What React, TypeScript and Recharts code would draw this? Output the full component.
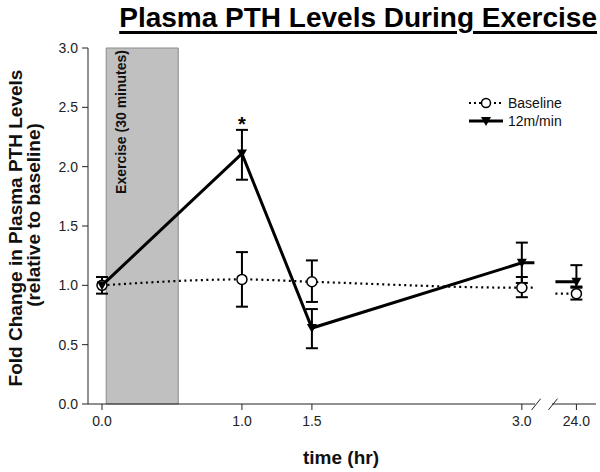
import React from 'react';
import {
  ComposedChart,
  Line,
  XAxis,
  YAxis,
  ErrorBar,
  ReferenceArea,
  ReferenceLine,
  ReferenceDot,
} from 'recharts';

// time points (hr). 24 h sits after an axis break, so it gets a compressed position
const timeLabels = ['0.0', '1.0', '1.5', '3.0', '24.0'];
const timePos = [0, 1, 1.5, 3, 3.39];

// fold change, open circles / dotted line
const baseline = [1.0, 1.05, 1.03, 0.98, 0.93];
const baselineLow = [1.0, 0.82, 0.86, 0.9, 0.88];
const baselineHigh = [1.0, 1.28, 1.21, 1.07, 0.99];

// fold change, filled triangles / solid line
const run12 = [1.0, 2.11, 0.64, 1.19, 1.03];
const run12Low = [0.93, 1.89, 0.47, 1.02, 0.98];
const run12High = [1.07, 2.31, 0.8, 1.36, 1.17];

const significant = [false, true, false, false, false];

const yTicks = [0, 0.5, 1, 1.5, 2, 2.5, 3];

// axis break: short stubs either side of the gap
const stubAfter3 = 3.09;
const stubBefore24 = 3.24;
const xDomain = [-0.1, 3.53];

const FONT = 'Arial, "Liberation Sans", Helvetica, sans-serif';

type Row = {
  pos: number;
  base: number | null;
  run: number | null;
  baseErr?: [number, number];
  runErr?: [number, number];
  mark: boolean;
};

const rows: Row[] = [];
timePos.forEach((p, i) => {
  if (i === 4) {
    // gap row breaks both lines, then stub leading into 24 h
    rows.push({ pos: (stubAfter3 + stubBefore24) / 2, base: null, run: null, mark: false });
    rows.push({ pos: stubBefore24, base: baseline[i], run: run12[i], mark: false });
  }
  const be: [number, number] = [baseline[i] - baselineLow[i], baselineHigh[i] - baseline[i]];
  rows.push({
    pos: p,
    base: baseline[i],
    run: run12[i],
    baseErr: be[0] === 0 && be[1] === 0 ? undefined : be,
    runErr: [run12[i] - run12Low[i], run12High[i] - run12[i]],
    mark: true,
  });
  if (i === 3) {
    rows.push({ pos: stubAfter3, base: baseline[i], run: run12[i], mark: false });
  }
});

const CircleDot = (props: any) => {
  const { cx, cy, payload, index } = props;
  if (!payload || !payload.mark) return <g key={`c-${index}`} />;
  return <circle key={`c-${index}`} cx={cx} cy={cy} r={5} fill="#fff" stroke="#000" strokeWidth={1.5} />;
};

const TriDot = (props: any) => {
  const { cx, cy, payload, index } = props;
  if (!payload || !payload.mark) return <g key={`t-${index}`} />;
  return (
    <path
      key={`t-${index}`}
      d={`M${cx - 5},${cy - 4}L${cx + 5},${cy - 4}L${cx},${cy + 5}Z`}
      fill="#000"
    />
  );
};

const ExerciseLabel = (props: any) => {
  const { viewBox } = props;
  if (!viewBox) return null;
  const x = viewBox.x + 19.5;
  const y = viewBox.y + 2;
  return (
    <text
      x={x}
      y={y}
      transform={`rotate(-90 ${x} ${y})`}
      textAnchor="end"
      fontFamily={FONT}
      fontSize={14}
      fontWeight="bold"
      fill="#111"
    >
      Exercise (30 minutes)
    </text>
  );
};

const LegendBox = () => (
  <div
    style={{
      position: 'absolute',
      left: 466,
      top: 94,
      fontFamily: FONT,
      fontSize: 14,
      color: '#111',
      lineHeight: '18px',
    }}
  >
    <div style={{ display: 'flex', alignItems: 'center' }}>
      <svg width={42} height={18}>
        <line x1={3} y1={9} x2={37} y2={9} stroke="#000" strokeWidth={2} strokeDasharray="2 3" />
        <circle cx={20} cy={9} r={4.5} fill="#fff" stroke="#000" strokeWidth={1.5} />
      </svg>
      <span>Baseline</span>
    </div>
    <div style={{ display: 'flex', alignItems: 'center' }}>
      <svg width={42} height={18}>
        <line x1={3} y1={9} x2={37} y2={9} stroke="#000" strokeWidth={3} />
        <path d="M15,5L25,5L20,14Z" fill="#000" />
      </svg>
      <span>12m/min</span>
    </div>
  </div>
);

export default function App() {
  return (
    <div style={{ position: 'absolute', left: 0, top: 0, width: 600, height: 472, background: '#fff', fontFamily: FONT }}>
      <ComposedChart
        width={600}
        height={472}
        data={rows}
        margin={{ top: 48, right: 4, left: 0, bottom: 0 }}
        style={{ position: 'absolute', left: 0, top: 0 }}
      >
        <ReferenceArea
          x1={0.03}
          x2={0.545}
          y1={0}
          y2={3}
          fill="#c0c0c0"
          fillOpacity={1}
          stroke="#8a8a8a"
          strokeWidth={1}
          label={<ExerciseLabel />}
        />
        <XAxis
          dataKey="pos"
          type="number"
          domain={xDomain}
          ticks={timePos}
          tickFormatter={(v: number) => timeLabels[timePos.indexOf(v)] ?? ''}
          axisLine={false}
          tickLine={{ stroke: '#222' }}
          tickSize={6}
          tickMargin={6}
          height={68}
          tick={{ fill: '#222', fontSize: 14, fontFamily: FONT }}
          allowDataOverflow
        />
        <YAxis
          type="number"
          domain={[0, 3]}
          ticks={yTicks}
          tickFormatter={(v: number) => v.toFixed(1)}
          width={88}
          axisLine={{ stroke: '#222' }}
          tickLine={{ stroke: '#222' }}
          tickSize={6}
          tickMargin={4}
          tick={{ fill: '#222', fontSize: 14, fontFamily: FONT }}
          allowDataOverflow
        />
        {/* broken x axis */}
        <ReferenceLine
          segment={[{ x: xDomain[0], y: 0 }, { x: 3.095, y: 0 }]}
          stroke="#222"
          ifOverflow="visible"
        />
        <ReferenceLine
          segment={[{ x: 3.215, y: 0 }, { x: xDomain[1], y: 0 }]}
          stroke="#222"
          ifOverflow="visible"
        />
        <ReferenceLine
          segment={[{ x: 3.07, y: -0.05 }, { x: 3.135, y: 0.045 }]}
          stroke="#222"
          ifOverflow="visible"
        />
        <ReferenceLine
          segment={[{ x: 3.19, y: -0.05 }, { x: 3.255, y: 0.045 }]}
          stroke="#222"
          ifOverflow="visible"
        />

        <Line
          dataKey="base"
          type="monotone"
          stroke="#000"
          strokeWidth={2.2}
          strokeDasharray="2 3.5"
          dot={CircleDot}
          activeDot={false}
          connectNulls={false}
          isAnimationActive={false}
        >
          <ErrorBar dataKey="baseErr" width={6} stroke="#000" strokeWidth={2} direction="y" />
        </Line>
        <Line
          dataKey="run"
          type="linear"
          stroke="#000"
          strokeWidth={3}
          dot={TriDot}
          activeDot={false}
          connectNulls={false}
          isAnimationActive={false}
        >
          <ErrorBar dataKey="runErr" width={6} stroke="#000" strokeWidth={2} direction="y" />
        </Line>

        {timePos.map((p, i) =>
          significant[i] ? (
            <ReferenceDot
              key={`sig-${i}`}
              x={p}
              y={run12High[i]}
              r={0}
              stroke="none"
              fill="none"
              label={{ value: '*', position: 'top', offset: -1, fontSize: 20, fontWeight: 'bold', fill: '#000', fontFamily: FONT }}
            />
          ) : null
        )}
      </ComposedChart>

      <div
        style={{
          position: 'absolute',
          right: 3,
          top: 4,
          fontSize: 28,
          lineHeight: '28px',
          fontWeight: 'bold',
          color: '#000',
          textDecoration: 'underline',
          textDecorationThickness: '3px',
          textUnderlineOffset: '4px',
          whiteSpace: 'nowrap',
        }}
      >
        Plasma PTH Levels During Exercise
      </div>

      <div
        style={{
          position: 'absolute',
          left: 15,
          top: 228,
          transform: 'translate(-50%, -50%) rotate(-90deg)',
          fontSize: 19,
          lineHeight: '19px',
          fontWeight: 'bold',
          color: '#111',
          whiteSpace: 'nowrap',
        }}
      >
        Fold Change in Plasma PTH Levels
      </div>
      <div
        style={{
          position: 'absolute',
          left: 33,
          top: 215,
          transform: 'translate(-50%, -50%) rotate(-90deg)',
          fontSize: 19,
          lineHeight: '19px',
          fontWeight: 'bold',
          color: '#111',
          whiteSpace: 'nowrap',
        }}
      >
        (relative to baseline)
      </div>

      <div
        style={{
          position: 'absolute',
          left: 341,
          top: 457,
          transform: 'translate(-50%, -50%)',
          fontSize: 19,
          lineHeight: '19px',
          fontWeight: 'bold',
          color: '#111',
          whiteSpace: 'nowrap',
        }}
      >
        time (hr)
      </div>

      <LegendBox />
    </div>
  );
}
